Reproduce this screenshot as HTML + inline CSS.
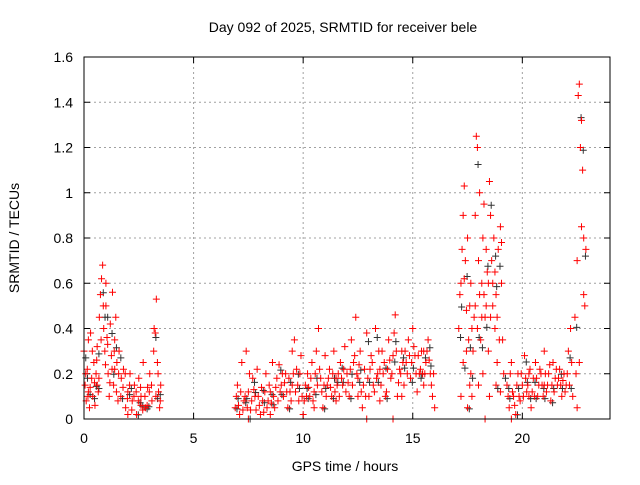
<!DOCTYPE html>
<html><head><meta charset="utf-8"><style>
html,body{margin:0;padding:0;background:#fff;}
svg text{font-family:"Liberation Sans",sans-serif;font-size:14px;fill:#000;}
</style></head><body>
<svg id="chart" width="640" height="480" xmlns="http://www.w3.org/2000/svg">
<rect width="640" height="480" fill="#fff"/>
<text x="343" y="32" text-anchor="middle">Day 092 of 2025, SRMTID for receiver bele</text>
<text transform="translate(19,238) rotate(-90)" text-anchor="middle">SRMTID / TECUs</text>
<text x="345" y="471" text-anchor="middle">GPS time / hours</text>
<g id="grid"></g>
<g id="ticks"></g>
<g id="marks"></g>
<rect x="84" y="57" width="526" height="362" fill="none" stroke="#000" stroke-width="1"/>
</svg>
<script>
const xTicks=[0,5,10,15,20];
const yTicks=[0,0.2,0.4,0.6,0.8,1,1.2,1.4,1.6];
const yTickLabels=["0","0.2","0.4","0.6","0.8","1","1.2","1.4","1.6"];
const seriesA=[[0,.3],[.05,.15],[.1,.08],[.15,.22],[.2,.12],[.25,.05],[.3,.38],[.35,.18],[.4,.1],[.45,.25],[.5,.06],[.55,.2],[.6,.32],[.65,.12],[.7,.45],[.75,.55],[.8,.62],[.85,.68],[.9,.4],[.95,.3],[1,.5],[1.05,.36],[1.1,.2],[1.15,.1],[1.2,.42],[1.25,.28],[1.3,.56],[1.35,.15],[1.4,.35],[1.45,.45],[1.5,.25],[1.55,.08],[1.6,.3],[1.7,.18],[1.8,.22],[1.9,.05],[2,.12],[2.1,.2],[2.2,.08],[2.3,.15],[2.4,.02],[2.5,.18],[2.6,.1],[2.7,.25],[2.8,.05],[2.9,.14],[3,.2],[3.1,.08],[3.2,.4],[3.25,.38],[3.3,.53],[3.35,.25],[3.4,.12],[3.45,.05],[3.5,.15],[0.2,.35],[0.6,.15],[1.0,.6],[1.4,.22],[2.0,.02],[2.6,.06]];
const seriesA2=[[.08,.2],[.18,.1],[.28,.14],[.38,.3],[.48,.16],[.58,.26],[.68,.18],[.78,.35],[.88,.5],[.98,.24],[1.08,.33],[1.18,.16],[1.28,.22],[1.38,.3],[1.48,.12],[1.58,.2],[1.68,.1],[1.78,.14],[1.88,.2],[1.98,.09],[2.08,.15],[2.18,.04],[2.28,.1],[2.38,.12],[2.48,.08],[2.58,.14],[2.68,.04],[2.78,.1],[2.88,.06],[2.98,.12],[3.08,.15],[3.18,.3],[3.28,.1],[3.38,.2],[3.48,.08]];
const seriesB=[[6.9,.05],[7,.15],[7.1,.02],[7.2,.25],[7.3,.08],[7.4,.3],[7.5,.12],[7.6,.04],[7.7,.18],[7.8,.1],[7.9,.22],[8,.06],[8.1,.14],[8.2,.03],[8.3,.2],[8.4,.08],[8.5,.12],[8.6,.25],[8.7,.05],[8.8,.18],[8.9,.24],[9,.15],[9.1,.1],[9.2,.2],[9.3,.05],[9.4,.12],[9.5,.3],[9.6,.35],[9.7,.22],[9.8,.08],[9.9,.28],[10,.02],[10.1,.15],[10.2,.2],[10.3,.1],[10.4,.25],[10.5,.12],[10.6,.3],[10.7,.4],[10.8,.18],[10.9,.05],[11,.28],[11.1,.15],[11.2,.22],[11.3,.1],[11.4,.3],[11.5,.08],[11.6,.2],[11.7,.25],[11.8,.15],[11.9,.32],[12,.2],[12.1,.1],[12.2,.35],[12.3,.25],[12.4,.45],[12.5,.18],[12.6,.3],[12.7,.05],[12.8,.22],[12.9,.38],[13,.1],[13.1,.28],[13.2,.15],[13.3,.4],[13.4,.2],[13.5,.08],[13.6,.3],[13.7,.25],[13.8,.12],[13.9,.35],[14,.18],[14.1,.28],[14.2,.46],[14.3,.1],[14.4,.22],[14.5,.3],[14.6,.15],[14.7,.25],[14.8,.35],[14.9,.18],[15,.4],[15.1,.28],[15.2,.12],[15.3,.2],[15.4,.3],[15.5,.15],[15.6,.25],[15.7,.35],[15.8,.2],[15.9,.1],[16,.05],[7.5,.0],[8.5,.02],[9.5,.15],[10.5,.05],[11.5,.18],[12.5,.1],[13.5,.22],[14.5,.1],[15.5,.3],[14.1,0],[12.9,0]];
const seriesB2=[[6.95,.1],[7.05,.06],[7.15,.12],[7.25,.04],[7.35,.1],[7.45,.05],[7.55,.2],[7.65,.08],[7.75,.13],[7.85,.04],[7.95,.1],[8.05,.02],[8.15,.08],[8.25,.12],[8.35,.05],[8.45,.15],[8.55,.07],[8.65,.1],[8.75,.14],[8.85,.08],[8.95,.12],[9.05,.2],[9.15,.16],[9.25,.12],[9.35,.18],[9.45,.08],[9.55,.2],[9.65,.12],[9.75,.15],[9.85,.2],[9.95,.1],[10.05,.08],[10.15,.1],[10.25,.14],[10.35,.18],[10.45,.08],[10.55,.2],[10.65,.15],[10.75,.22],[10.85,.12],[10.95,.15],[11.05,.1],[11.15,.18],[11.25,.14],[11.35,.2],[11.45,.12],[11.55,.15],[11.65,.1],[11.75,.18],[11.85,.22],[11.95,.12],[12.05,.16],[12.15,.22],[12.25,.15],[12.35,.28],[12.45,.2],[12.55,.24],[12.65,.12],[12.75,.15],[12.85,.1],[12.95,.18],[13.05,.22],[13.15,.25],[13.25,.12],[13.35,.18],[13.45,.3],[13.55,.15],[13.65,.2],[13.75,.1],[13.85,.22],[13.95,.26],[14.05,.2],[14.15,.38],[14.25,.3],[14.35,.16],[14.45,.2],[14.55,.25],[14.65,.3],[14.75,.2],[14.85,.28],[14.95,.25],[15.05,.32],[15.15,.2],[15.25,.28],[15.35,.22],[15.45,.2],[15.55,.2],[15.65,.3],[15.75,.26],[15.85,.15],[15.95,.2]];
const seriesC=[[17.1,.4],[17.2,.6],[17.3,.9],[17.35,1.03],[17.4,.7],[17.45,.3],[17.5,.8],[17.6,.5],[17.65,.2],[17.7,.1],[17.8,.45],[17.85,.9],[17.9,1.25],[17.95,1.2],[18,.7],[18.05,.55],[18.1,.35],[18.15,.6],[18.2,.8],[18.25,.95],[18.3,.45],[18.35,.5],[18.4,.65],[18.45,.3],[18.5,1.05],[18.55,.9],[18.6,.7],[18.65,.6],[18.7,.8],[18.75,.4],[18.8,.55],[18.85,.25],[18.9,.75],[19,.85],[19.05,.6],[19.1,.35],[17.5,.05],[18,.15],[18.5,.1],[19,.12],[17.3,.25],[18.3,.0],[17.7,.4]];
const seriesC2=[[17.15,.55],[17.25,.75],[17.35,.62],[17.45,.48],[17.55,.35],[17.65,.6],[17.75,.3],[17.85,.5],[17.95,.4],[18.05,1.0],[18.15,.45],[18.25,.55],[18.35,.75],[18.45,.6],[18.55,.45],[18.65,.5],[18.75,.65],[18.85,.45],[18.95,.35],[19.05,.78],[19.15,.2],[17.2,.1],[17.6,.15],[18.2,.2],[18.8,.15]];
const seriesD=[[19.3,.15],[19.4,.05],[19.5,.25],[19.6,.1],[19.7,.02],[19.8,.2],[19.9,.08],[20,.15],[20.1,.28],[20.2,.12],[20.3,.2],[20.4,.05],[20.5,.18],[20.6,.25],[20.7,.1],[20.8,.22],[20.9,.15],[21,.3],[21.1,.12],[21.2,.2],[21.3,.08],[21.4,.25],[21.5,.18],[21.6,.15],[21.7,.22],[21.8,.1],[21.9,.2],[22,.15],[22.1,.3],[22.2,.4],[22.3,.1],[19.5,0],[20.3,.1],[21.0,.15]];
const seriesD2=[[19.35,.1],[19.45,.2],[19.55,.12],[19.65,.06],[19.75,.15],[19.85,.1],[19.95,.2],[20.05,.1],[20.15,.18],[20.25,.15],[20.35,.22],[20.45,.12],[20.55,.1],[20.65,.18],[20.75,.15],[20.85,.2],[20.95,.1],[21.05,.2],[21.15,.15],[21.25,.24],[21.35,.15],[21.45,.12],[21.55,.22],[21.65,.18],[21.75,.15],[21.85,.17],[21.95,.12],[22.05,.2],[22.15,.15],[22.25,.25]];
const seriesE=[[22.4,.45],[22.45,.2],[22.5,.7],[22.55,1.43],[22.6,1.48],[22.65,1.2],[22.7,.85],[22.75,1.1],[22.8,.8],[22.85,.5],[22.5,.05],[22.6,.25],[22.7,1.32],[22.8,.55],[22.9,.75]];
const X0=84,X1=610,Y0=419,Y1=57,XMAX=24,YMAX=1.6;
const sx=t=>X0+t/XMAX*(X1-X0), sy=v=>Y0-v/YMAX*(Y0-Y1);
const NS="http://www.w3.org/2000/svg";
const grid=document.getElementById('grid'),ticks=document.getElementById('ticks'),marks=document.getElementById('marks');
function mk(tag,attrs,parent){const e=document.createElementNS(NS,tag);for(const k in attrs)e.setAttribute(k,attrs[k]);parent.appendChild(e);return e;}
xTicks.forEach(t=>{const x=sx(t);
 if(t>0){const g=mk('line',{x1:x,x2:x,y1:Y1,y2:Y0,stroke:'#a0a0a0','stroke-dasharray':'2,3'},grid);
 
 }
 const l=mk('text',{x:x,y:443,'text-anchor':'middle'},ticks);l.textContent=t;
 
 
 mk('line',{x1:x,x2:x,y1:Y0,y2:Y0-6,stroke:'#000'},ticks);mk('line',{x1:x,x2:x,y1:Y1,y2:Y1+6,stroke:'#000'},ticks);});
yTicks.forEach((v,i)=>{const y=sy(v);
 if(v>0&&v<YMAX){const g=mk('line',{x1:X0,x2:X1,y1:y,y2:y,stroke:'#a0a0a0','stroke-dasharray':'2,3'},grid);
 
 }
 const l=mk('text',{x:73,y:y+5,'text-anchor':'end'},ticks);l.textContent=yTickLabels[i];
 
 
 mk('line',{x1:X0,x2:X0+6,y1:y,y2:y,stroke:'#000'},ticks);mk('line',{x1:X1,x2:X1-6,y1:y,y2:y,stroke:'#000'},ticks);});
function plus(t,v,col){const x=sx(t),y=sy(v);
 const p=mk('path',{d:`M${x-3.5},${y}H${x+3.5}M${x},${y-3.5}V${y+3.5}`,stroke:col,'stroke-width':1,fill:'none'},marks);
 
 }
const all=[seriesA,seriesA2,seriesB,seriesB2,seriesC,seriesC2,seriesD,seriesD2,seriesE];
all.forEach(s=>s.forEach((d,i)=>{if(i%4===0)plus(d[0]+0.08,d[1]*0.9,'#333');}));
all.forEach(s=>s.forEach(d=>plus(d[0],d[1],'#f00')));
</script>
</body></html>
